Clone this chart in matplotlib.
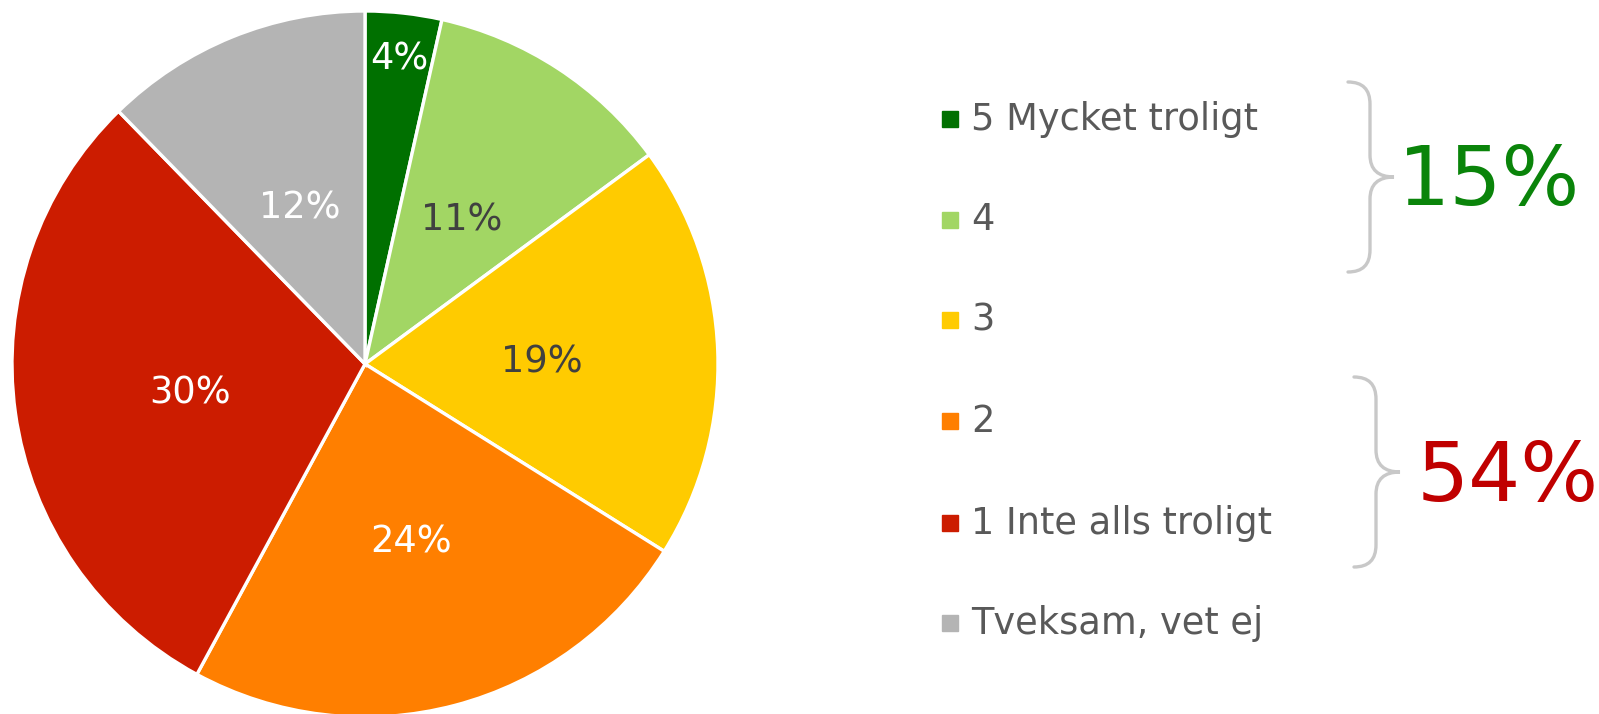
import numpy as np
import matplotlib.pyplot as plt
from matplotlib.path import Path
from matplotlib.patches import PathPatch

# Slice sizes (share of answers, %)
categories = ["5 Mycket troligt", "4", "3", "2", "1 Inte alls troligt", "Tveksam, vet ej"]
shares = [3.5, 11.4, 19.0, 24.0, 29.8, 12.3]
share_labels = ["4%", "11%", "19%", "24%", "30%", "12%"]
colors = ["#007000", "#a2d664", "#ffcb00", "#ff7f00", "#cc1c00", "#b4b4b4"]
label_colors = ["white", "#404040", "#404040", "white", "white", "white"]
label_radius = [0.88, 0.50, 0.50, 0.51, 0.50, 0.49]

# grouped totals shown next to the braces
group_totals = ["15%", "54%"]
group_colors = ["#0a840a", "#c00000"]

W, H = 1599, 714
fig = plt.figure(figsize=(W / 100, H / 100), dpi=100)

# pie axes, placed in pixels
cx, cy, r = 365, 364, 353
ax = fig.add_axes([(cx - r) / W, (H - cy - r) / H, 2 * r / W, 2 * r / H])
ax.pie(shares, colors=colors, startangle=90, counterclock=False, radius=1,
       wedgeprops=dict(edgecolor="white", linewidth=2.4))
ax.set_xlim(-1, 1)
ax.set_ylim(-1, 1)
ax.set_aspect("equal")
ax.axis("off")

total = sum(shares)
start = 0
for s, lab, c, rr in zip(shares, share_labels, label_colors, label_radius):
    mid = start + s / 2
    ang = np.deg2rad(90 - mid / total * 360)
    ax.text(rr * np.cos(ang), rr * np.sin(ang) - 0.012, lab, color=c,
            fontsize=26.5, ha="center", va="center")
    start += s

# overlay in pixel coordinates for legend, braces and totals
ov = fig.add_axes([0, 0, 1, 1])
ov.set_xlim(0, W)
ov.set_ylim(H, 0)
ov.axis("off")

rows = [119, 220, 320, 421, 523, 623]
for y, lab, c in zip(rows, categories, colors):
    ov.add_patch(plt.Rectangle((942, y - 8), 16, 16, color=c))
    ov.text(971, y, lab, fontsize=26.5, color="#595959", va="center", ha="left")


def brace(x0, xv, xtip, ytop, ybot, rad=22):
    ymid = (ytop + ybot) / 2
    verts = [(x0, ytop), (xv, ytop), (xv, ytop + rad),
             (xv, ymid - rad), (xv, ymid), (xtip, ymid),
             (xv, ymid), (xv, ymid + rad),
             (xv, ybot - rad), (xv, ybot), (x0, ybot)]
    codes = [Path.MOVETO, Path.CURVE3, Path.CURVE3,
             Path.LINETO, Path.CURVE3, Path.CURVE3,
             Path.CURVE3, Path.CURVE3,
             Path.LINETO, Path.CURVE3, Path.CURVE3]
    ov.add_patch(PathPatch(Path(verts, codes), fill=False,
                           edgecolor="#c8c8c8", linewidth=2.4, capstyle="round"))


brace(1348, 1370, 1394, 82, 272)
brace(1354, 1376, 1400, 377, 567)

ov.text(1489, 183, group_totals[0], fontsize=59, color=group_colors[0],
        ha="center", va="center")
ov.text(1508, 478, group_totals[1], fontsize=59, color=group_colors[1],
        ha="center", va="center")

fig.savefig("out.png", dpi=100)
